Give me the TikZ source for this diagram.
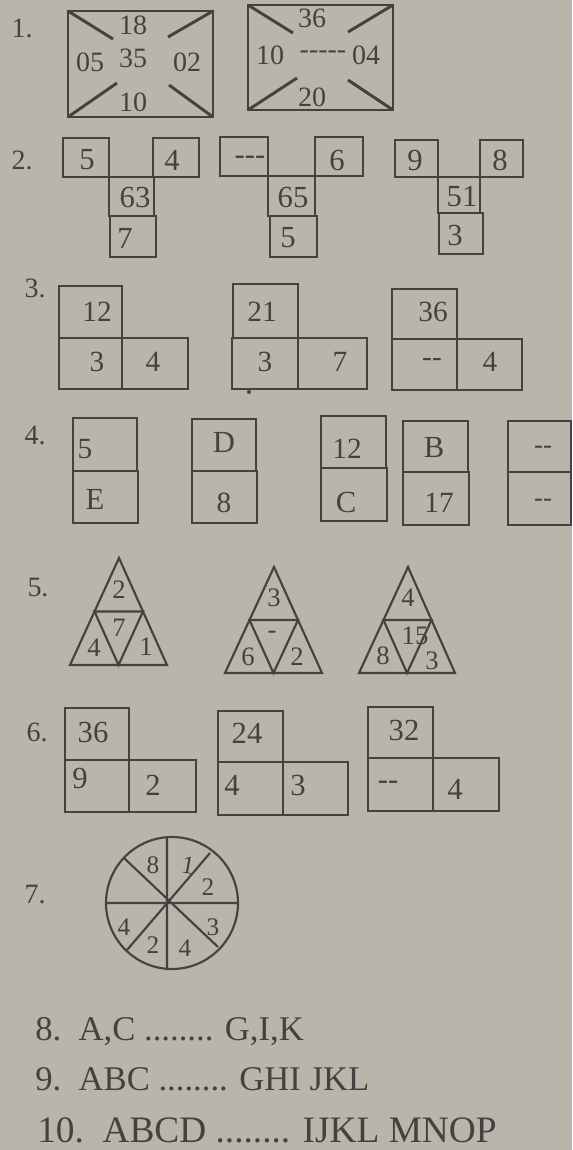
\documentclass[tikz,border=0pt]{standalone}
\usepackage{fontspec}
\setmainfont{Liberation Serif}
\definecolor{paper}{RGB}{186,181,171}
\definecolor{ink}{RGB}{72,64,64}
\begin{document}
\begin{tikzpicture}[x=0.75pt,y=-0.75pt,
  ln/.style={draw=ink,line width=1.1pt},
  thick1/.style={draw=ink,line width=2.2pt},
  tri/.style={draw=ink,line width=1.6pt,line join=miter},
  t/.style={text=ink,inner sep=0pt,font=\fontsize{#1}{#1}\selectfont},
  t/.default=21,
  lbl/.style={text=ink,inner sep=0pt,font=\fontsize{21}{21}\selectfont},
  big/.style={text=ink,inner sep=0pt,anchor=base west,font=\fontsize{26}{26}\selectfont}]
\fill[paper] (0,0) rectangle (572,1150);
\useasboundingbox (0,0) rectangle (572,1150);

% ---------- 1 ----------
\node[lbl] (l1) at (22,28) {1.};
\draw[thick1] (68,11) rectangle (213,117);
\draw[thick1] (68,11) -- (113,39) (213,11) -- (168,37) (68,117) -- (117,83) (213,117) -- (169,85);
\node[t=21] (a18) at (133,25) {18};
\node[t=21] (a05) at (90,62) {05};
\node[t=21] (a35) at (133,58) {35};
\node[t=21] (a02) at (187,62) {02};
\node[t=21] (a10) at (133,102) {10};
\draw[thick1] (248,5) rectangle (393,110);
\draw[thick1] (248,5) -- (293,33) (393,5) -- (348,32) (248,110) -- (297,78) (393,110) -- (348,80);
\node[t=21] (b36) at (312,18) {36};
\node[t=21] (b10) at (270,55) {10};
\node[t=21] (bd) at (323,55) {-{}-{}-{}-{}-};
\node[t=21] (b04) at (366,55) {04};
\node[t=21] (b20) at (312,97) {20};

% ---------- 2 ----------
\node[lbl] (l2) at (22,160) {2.};
\draw[ln] (63,138) rectangle (109,177) (153,138) rectangle (199,177) (109,177) rectangle (154,216) (110,216) rectangle (156,257);
\node[t=23] (c1) at (87,160) {5};
\node[t=23] (c2) at (172,160) {4};
\node[t=23] (c3) at (135,197) {63};
\node[t=23] (c4) at (125,238) {7};
\draw[ln] (220,137) rectangle (268,176) (315,137) rectangle (363,176) (268,176) rectangle (315,216) (270,216) rectangle (317,257);
\node[t=23] (d1) at (250,160) {-{}-{}-};
\node[t=23] (d2) at (337,160) {6};
\node[t=23] (d3) at (293,197) {65};
\node[t=23] (d4) at (288,238) {5};
\draw[ln] (395,140) rectangle (438,177) (480,140) rectangle (523,177) (438,177) rectangle (480,213) (439,213) rectangle (483,254);
\node[t=23] (e1) at (415,160) {9};
\node[t=23] (e2) at (500,160) {8};
\node[t=23] (e3) at (462,197) {51};
\node[t=23] (e4) at (455,235) {3};

% ---------- 3 ----------
\node[lbl] (l3) at (35,288) {3.};
\draw[ln] (59,286) rectangle (122,338) (59,338) rectangle (122,389) (122,338) rectangle (188,389);
\node[t=22] (f1) at (97,312) {12};
\node[t=22] (f2) at (97,362) {3};
\node[t=22] (f3) at (153,362) {4};
\draw[ln] (233,284) rectangle (298,338) (232,338) rectangle (298,389) (298,338) rectangle (367,389);
\node[t=22] (g1) at (262,312) {21};
\node[t=22] (g2) at (265,362) {3};
\node[t=22] (g3) at (340,362) {7};
\fill[ink] (249,392) circle[radius=2];
\draw[ln] (392,289) rectangle (457,339) (392,339) rectangle (457,390) (457,339) rectangle (522,390);
\node[t=22] (h1) at (433,312) {36};
\node[t=22] (h2) at (432,362) {-{}-};
\node[t=22] (h3) at (490,362) {4};

% ---------- 4 ----------
\node[lbl] (l4) at (35,435) {4.};
\draw[ln] (73,418) rectangle (137,471) (73,471) rectangle (138,523);
\node[t=22] (i1) at (85,449) {5};
\node[t=23] (i2) at (95,499) {E};
\draw[ln] (192,419) rectangle (256,471) (192,471) rectangle (257,523);
\node[t=23] (j1) at (224,442) {D};
\node[t=22] (j2) at (224,503) {8};
\draw[ln] (321,416) rectangle (386,468) (321,468) rectangle (387,521);
\node[t=22] (k1) at (347,449) {12};
\node[t=23] (k2) at (346,502) {C};
\draw[ln] (403,421) rectangle (468,472) (403,472) rectangle (469,525);
\node[t=23] (m1) at (434,447) {B};
\node[t=22] (m2) at (439,503) {17};
\draw[ln] (508,421) rectangle (571,472) (508,472) rectangle (571,525);
\node[t=20] (o1) at (543,450) {-{}-};
\node[t=20] (o2) at (543,503) {-{}-};

% ---------- 5 ----------
\node[lbl] (l5) at (38,588) {5.};
\draw[tri] (119,558) -- (70,665) -- (167,665) -- cycle;
\draw[tri] (94.5,611.5) -- (143,611.5) -- (118.5,665) -- cycle;
\node[t=20] (p1) at (119,590) {2};
\node[t=20] (p2) at (119,628) {7};
\node[t=20] (p3) at (94,648) {4};
\node[t=20] (p4) at (146,647) {1};
\draw[tri] (274,567) -- (225,673) -- (322,673) -- cycle;
\draw[tri] (249.5,620) -- (298,620) -- (273.5,673) -- cycle;
\node[t=20] (q1) at (274,598) {3};
\node[t=20] (q2) at (272,635) {-};
\node[t=20] (q3) at (248,657) {6};
\node[t=20] (q4) at (297,657) {2};
\draw[tri] (408,567) -- (359,673) -- (455,673) -- cycle;
\draw[tri] (383.5,620) -- (431.5,620) -- (407,673) -- cycle;
\node[t=20] (r1) at (408,598) {4};
\node[t=20] (r2) at (415,636) {15};
\node[t=20] (r3) at (383,656) {8};
\node[t=20] (r4) at (432,661) {3};

% ---------- 6 ----------
\node[lbl] (l6) at (37,732) {6.};
\draw[ln] (65,708) rectangle (129,760) (65,760) rectangle (129,812) (129,760) rectangle (196,812);
\node[t=23] (s1) at (93,732) {36};
\node[t=23] (s2) at (80,778) {9};
\node[t=23] (s3) at (153,785) {2};
\draw[ln] (218,711) rectangle (283,762) (218,762) rectangle (283,815) (283,762) rectangle (348,815);
\node[t=23] (u1) at (247,733) {24};
\node[t=23] (u2) at (232,785) {4};
\node[t=23] (u3) at (298,785) {3};
\draw[ln] (368,707) rectangle (433,758) (368,758) rectangle (433,811) (433,758) rectangle (499,811);
\node[t=23] (v1) at (404,730) {32};
\node[t=23] (v2) at (388,785) {-{}-};
\node[t=23] (v3) at (455,789) {4};

% ---------- 7 ----------
\node[lbl] (l7) at (35,895) {7.};
\draw[tri] (172,903) circle[radius=66];
\draw[tri] (167,837) -- (167,970) (107,903) -- (238,903) (124,858) -- (218,947) (210,853) -- (127,950);
\node[t=19] (w1) at (153,865) {8};
\node[t=19,rotate=-10] (w2) at (188,865) {1};
\node[t=19] (w3) at (208,887) {2};
\node[t=19] (w4) at (213,927) {3};
\node[t=19] (w5) at (185,948) {4};
\node[t=19] (w6) at (153,945) {2};
\node[t=19] (w7) at (124,927) {4};

% ---------- 8-10 ----------
\node[big] (x8) at (35,1040) {8.\ \ A,C ........ G,I,K};
\node[big] (x9) at (35,1090) {9.\ \ ABC ........ GHI JKL};
\node[big,font=\fontsize{28}{28}\selectfont] (x10) at (37,1142) {10.\ \ ABCD ........ IJKL MNOP};
\end{tikzpicture}
\end{document}
